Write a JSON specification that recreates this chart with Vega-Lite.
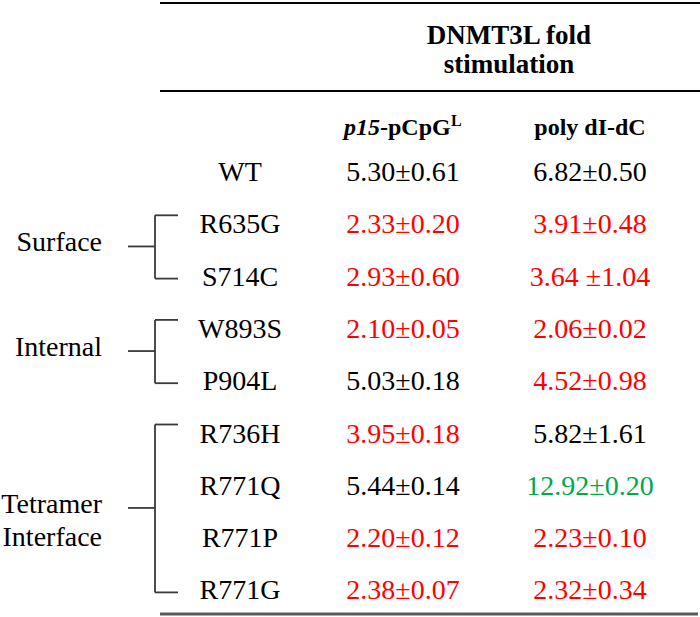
{
  "$schema": "https://vega.github.io/schema/vega-lite/v6.json",
  "width": 700,
  "height": 617,
  "autosize": "none",
  "padding": 0,
  "background": "white",
  "config": {"view": {"stroke": null}, "text": {"font": "Liberation Serif"}},
  "datasets": {
    "table": [
      {"row": 1, "mutant": "WT", "group": "", "p15": "5.30±0.61", "p15Effect": "no change", "poly": "6.82±0.50", "polyEffect": "no change"},
      {"row": 2, "mutant": "R635G", "group": "Surface", "p15": "2.33±0.20", "p15Effect": "decreased", "poly": "3.91±0.48", "polyEffect": "decreased"},
      {"row": 3, "mutant": "S714C", "group": "Surface", "p15": "2.93±0.60", "p15Effect": "decreased", "poly": "3.64 ±1.04", "polyEffect": "decreased"},
      {"row": 4, "mutant": "W893S", "group": "Internal", "p15": "2.10±0.05", "p15Effect": "decreased", "poly": "2.06±0.02", "polyEffect": "decreased"},
      {"row": 5, "mutant": "P904L", "group": "Internal", "p15": "5.03±0.18", "p15Effect": "no change", "poly": "4.52±0.98", "polyEffect": "decreased"},
      {"row": 6, "mutant": "R736H", "group": "Tetramer Interface", "p15": "3.95±0.18", "p15Effect": "decreased", "poly": "5.82±1.61", "polyEffect": "no change"},
      {"row": 7, "mutant": "R771Q", "group": "Tetramer Interface", "p15": "5.44±0.14", "p15Effect": "no change", "poly": "12.92±0.20", "polyEffect": "increased"},
      {"row": 8, "mutant": "R771P", "group": "Tetramer Interface", "p15": "2.20±0.12", "p15Effect": "decreased", "poly": "2.23±0.10", "polyEffect": "decreased"},
      {"row": 9, "mutant": "R771G", "group": "Tetramer Interface", "p15": "2.38±0.07", "p15Effect": "decreased", "poly": "2.32±0.34", "polyEffect": "decreased"}
    ]
  },
  "layer": [
    {
      "data": {"values": [{}]},
      "mark": {"type": "rule", "color": "#000000", "strokeWidth": 2},
      "encoding": {
        "x": {"datum": 160, "type": "quantitative", "scale": {"domain": [0, 700], "nice": false, "zero": false}, "axis": null},
        "x2": {"datum": 700},
        "y": {"datum": -2.25, "type": "quantitative", "scale": {"domain": [-2.308, 9.4895], "reverse": true, "nice": false, "zero": false}, "axis": null}
      }
    },
    {
      "data": {"values": [{}]},
      "mark": {"type": "rule", "color": "#000000", "strokeWidth": 2},
      "encoding": {
        "x": {"datum": 160, "type": "quantitative", "axis": null},
        "x2": {"datum": 700},
        "y": {"datum": -0.568, "type": "quantitative", "axis": null}
      }
    },
    {
      "data": {"values": [{}]},
      "mark": {"type": "rule", "color": "#5a5a5a", "strokeWidth": 3},
      "encoding": {
        "x": {"datum": 160, "type": "quantitative", "axis": null},
        "x2": {"datum": 698},
        "y": {"datum": 9.432, "type": "quantitative", "axis": null}
      }
    },
    {
      "data": {"values": [{}]},
      "mark": {"type": "text", "text": "DNMT3L fold\nstimulation", "lineBreak": "\n", "lineHeight": 29, "fontWeight": "bold", "fontSize": 27, "align": "center", "baseline": "middle", "color": "#000000"},
      "encoding": {
        "x": {"datum": 509, "type": "quantitative", "axis": null},
        "y": {"datum": -1.6195, "type": "quantitative", "axis": null}
      }
    },
    {
      "data": {"values": [{}]},
      "mark": {"type": "text", "text": "p15", "fontWeight": "bold", "fontStyle": "italic", "fontSize": 24, "align": "right", "baseline": "middle", "color": "#000000"},
      "encoding": {
        "x": {"datum": 380, "type": "quantitative", "axis": null},
        "y": {"datum": 0.14, "type": "quantitative", "axis": null}
      }
    },
    {
      "data": {"values": [{}]},
      "mark": {"type": "text", "text": "-pCpG", "fontWeight": "bold", "fontSize": 24, "align": "left", "baseline": "middle", "color": "#000000"},
      "encoding": {
        "x": {"datum": 380, "type": "quantitative", "axis": null},
        "y": {"datum": 0.14, "type": "quantitative", "axis": null}
      }
    },
    {
      "data": {"values": [{}]},
      "mark": {"type": "text", "text": "L", "fontWeight": "bold", "fontSize": 16, "align": "left", "baseline": "middle", "color": "#000000"},
      "encoding": {
        "x": {"datum": 451, "type": "quantitative", "axis": null},
        "y": {"datum": 0.0, "type": "quantitative", "axis": null}
      }
    },
    {
      "data": {"values": [{}]},
      "mark": {"type": "text", "text": "poly dI-dC", "fontWeight": "bold", "fontSize": 24, "align": "center", "baseline": "middle", "color": "#000000"},
      "encoding": {
        "x": {"datum": 590, "type": "quantitative", "axis": null},
        "y": {"datum": 0.14, "type": "quantitative", "axis": null}
      }
    },
    {
      "data": {"name": "table"},
      "mark": {"type": "text", "fontSize": 28, "align": "center", "baseline": "middle", "color": "#000000"},
      "encoding": {
        "x": {"datum": 240, "type": "quantitative", "axis": null},
        "y": {"field": "row", "type": "quantitative", "axis": null},
        "text": {"field": "mutant"}
      }
    },
    {
      "data": {"name": "table"},
      "mark": {"type": "text", "fontSize": 28, "align": "center", "baseline": "middle"},
      "encoding": {
        "x": {"datum": 403, "type": "quantitative", "axis": null},
        "y": {"field": "row", "type": "quantitative", "axis": null},
        "text": {"field": "p15"},
        "color": {"field": "p15Effect", "type": "nominal", "scale": {"domain": ["no change", "decreased", "increased"], "range": ["#000000", "#ff0000", "#00a84f"]}, "legend": null}
      }
    },
    {
      "data": {"name": "table"},
      "mark": {"type": "text", "fontSize": 28, "align": "center", "baseline": "middle"},
      "encoding": {
        "x": {"datum": 590, "type": "quantitative", "axis": null},
        "y": {"field": "row", "type": "quantitative", "axis": null},
        "text": {"field": "poly"},
        "color": {"field": "polyEffect", "type": "nominal", "legend": null}
      }
    },
    {
      "data": {"name": "table"},
      "transform": [{"filter": "datum.group != ''"}],
      "mark": {"type": "text", "fontSize": 28, "align": "right", "baseline": "middle", "lineBreak": " ", "lineHeight": 33, "dy": -8, "color": "#000000"},
      "encoding": {
        "x": {"datum": 102, "type": "quantitative", "axis": null},
        "y": {"aggregate": "mean", "field": "row", "type": "quantitative", "axis": null},
        "text": {"field": "group"}
      }
    },
    {
      "data": {"name": "table"},
      "transform": [{"filter": "datum.group != ''"}],
      "mark": {"type": "rule", "color": "#3a3a3a", "strokeWidth": 1.8, "yOffset": -10, "y2Offset": 1},
      "encoding": {
        "x": {"datum": 155, "type": "quantitative", "axis": null},
        "y": {"aggregate": "min", "field": "row", "type": "quantitative", "axis": null},
        "y2": {"aggregate": "max", "field": "row"},
        "detail": {"field": "group"}
      }
    },
    {
      "data": {"name": "table"},
      "transform": [{"filter": "datum.group != ''"}],
      "mark": {"type": "rule", "color": "#3a3a3a", "strokeWidth": 1.8, "yOffset": -10},
      "encoding": {
        "x": {"datum": 155, "type": "quantitative", "axis": null},
        "x2": {"datum": 178},
        "y": {"aggregate": "min", "field": "row", "type": "quantitative", "axis": null},
        "detail": {"field": "group"}
      }
    },
    {
      "data": {"name": "table"},
      "transform": [{"filter": "datum.group != ''"}],
      "mark": {"type": "rule", "color": "#3a3a3a", "strokeWidth": 1.8, "yOffset": 1},
      "encoding": {
        "x": {"datum": 155, "type": "quantitative", "axis": null},
        "x2": {"datum": 178},
        "y": {"aggregate": "max", "field": "row", "type": "quantitative", "axis": null},
        "detail": {"field": "group"}
      }
    },
    {
      "data": {"name": "table"},
      "transform": [{"filter": "datum.group != ''"}],
      "mark": {"type": "rule", "color": "#3a3a3a", "strokeWidth": 1.8, "yOffset": -5},
      "encoding": {
        "x": {"datum": 128, "type": "quantitative", "axis": null},
        "x2": {"datum": 155},
        "y": {"aggregate": "mean", "field": "row", "type": "quantitative", "axis": null},
        "detail": {"field": "group"}
      }
    }
  ]
}
